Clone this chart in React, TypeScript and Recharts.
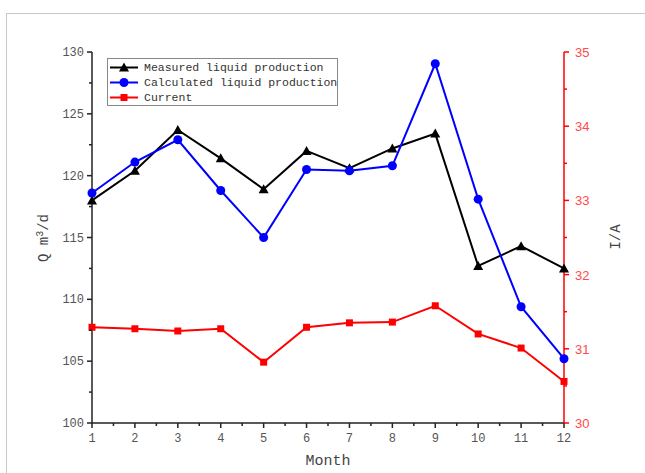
import React from 'react';
import { LineChart, Line, XAxis, YAxis } from 'recharts';

// Monthly values
const months = [1, 2, 3, 4, 5, 6, 7, 8, 9, 10, 11, 12];
const measured = [118.0, 120.4, 123.7, 121.4, 118.9, 122.0, 120.6, 122.2, 123.4, 112.7, 114.3, 112.5];
const calculated = [118.6, 121.1, 122.9, 118.8, 115.0, 120.5, 120.4, 120.8, 129.05, 118.1, 109.4, 105.2];
const current = [31.29, 31.27, 31.24, 31.27, 30.82, 31.29, 31.35, 31.36, 31.58, 31.2, 31.01, 30.56];

const qTicks = [100, 105, 110, 115, 120, 125, 130];
const iTicks = [30, 31, 32, 33, 34, 35];

const seriesNames = ['Measured liquid production', 'Calculated liquid production', 'Current'];

const data = months.map((m, i) => ({
  month: m,
  measured: measured[i],
  calculated: calculated[i],
  current: current[i],
}));

// add a minor tick halfway between each pair of major ticks
const withMinor = (ticks: number[]) => {
  const out: number[] = [];
  ticks.forEach((t, i) => {
    out.push(t);
    if (i < ticks.length - 1) out.push((t + ticks[i + 1]) / 2);
  });
  return out;
};

const MONO = '"Liberation Mono", monospace';
const AXIS_DARK = '#222';
const RED = '#ff0000';
const BLUE = '#0000ff';

const isMajor = (v: number, majors: number[]) => majors.includes(v);

const XTick = (props: any) => {
  const { x, y, payload } = props;
  const major = isMajor(payload.value, months);
  return (
    <g>
      <line x1={x} y1={y} x2={x} y2={y + (major ? 5 : 3)} stroke={AXIS_DARK} strokeWidth={1.5} />
      {major && (
        <text x={x} y={y + 19} textAnchor="middle" fontFamily={MONO} fontSize={12} fill="#555">
          {payload.value}
        </text>
      )}
    </g>
  );
};

const LeftTick = (props: any) => {
  const { x, y, payload } = props;
  const major = isMajor(payload.value, qTicks);
  return (
    <g>
      <line x1={x} y1={y} x2={x - (major ? 5 : 3)} y2={y} stroke={AXIS_DARK} strokeWidth={1.5} />
      {major && (
        <text x={x - 8} y={y + 4} textAnchor="end" fontFamily={MONO} fontSize={12} fill="#555">
          {payload.value}
        </text>
      )}
    </g>
  );
};

const RightTick = (props: any) => {
  const { x, y, payload } = props;
  const major = isMajor(payload.value, iTicks);
  return (
    <g>
      <line x1={x} y1={y} x2={x + (major ? 5 : 3)} y2={y} stroke={RED} strokeWidth={1.5} />
      {major && (
        <text x={x + 11} y={y + 5} textAnchor="start" fontFamily='"Liberation Sans", sans-serif' fontSize={13} fill="#ff4a4a">
          {payload.value}
        </text>
      )}
    </g>
  );
};

const Triangle = ({ cx, cy, color }: { cx: number; cy: number; color: string }) => (
  <polygon points={`${cx},${cy - 5} ${cx - 5},${cy + 4} ${cx + 5},${cy + 4}`} fill={color} />
);

const Square = ({ cx, cy, color }: { cx: number; cy: number; color: string }) => (
  <rect x={cx - 3.5} y={cy - 3.5} width={7} height={7} fill={color} />
);

const Dot = ({ cx, cy, color }: { cx: number; cy: number; color: string }) => (
  <circle cx={cx} cy={cy} r={4.5} fill={color} />
);

const legendMarkers = [
  { color: '#000', Mark: Triangle },
  { color: BLUE, Mark: Dot },
  { color: RED, Mark: Square },
];

const App = () => {
  return (
    <div style={{ position: 'absolute', left: 0, top: 0, width: 645, height: 473, overflow: 'hidden', background: '#fff' }}>
      {/* light frame of the figure */}
      <div style={{ position: 'absolute', left: 6, top: 13, width: 660, height: 480, border: '1px solid #c8c8c8' }} />

      <LineChart
        width={645}
        height={473}
        data={data}
        margin={{ top: 52, right: 31, bottom: 20, left: 42 }}
        style={{ position: 'absolute', left: 0, top: 0 }}
      >
        <XAxis
          dataKey="month"
          type="number"
          domain={[1, 12]}
          ticks={withMinor(months)}
          interval={0}
          height={30}
          tickSize={0}
          tickMargin={0}
          tickLine={false}
          tick={XTick}
          axisLine={{ stroke: AXIS_DARK, strokeWidth: 1.5 }}
          label={{
            content: () => (
              <text x={328} y={465} textAnchor="middle" fontFamily={MONO} fontSize={15} fill="#444">
                Month
              </text>
            ),
          }}
        />
        <YAxis
          yAxisId="q"
          orientation="left"
          type="number"
          domain={[100, 130]}
          ticks={withMinor(qTicks)}
          interval={0}
          width={50}
          tickSize={0}
          tickMargin={0}
          tickLine={false}
          tick={LeftTick}
          axisLine={{ stroke: AXIS_DARK, strokeWidth: 1.5 }}
          label={{
            content: () => (
              <text
                x={48}
                y={238}
                transform="rotate(-90 48 238)"
                textAnchor="middle"
                fontFamily={MONO}
                fontSize={14}
                fill="#444"
              >
                Q m<tspan dy={-5} fontSize={10}>3</tspan>
                <tspan dy={5}>/d</tspan>
              </text>
            ),
          }}
        />
        <YAxis
          yAxisId="i"
          orientation="right"
          type="number"
          domain={[30, 35]}
          ticks={withMinor(iTicks)}
          interval={0}
          width={50}
          tickSize={0}
          tickMargin={0}
          tickLine={false}
          tick={RightTick}
          axisLine={{ stroke: RED, strokeWidth: 1.5 }}
          label={{
            content: () => (
              <text
                x={620}
                y={237}
                transform="rotate(-90 620 237)"
                textAnchor="middle"
                fontFamily={MONO}
                fontSize={14}
                fill="#444"
              >
                I/A
              </text>
            ),
          }}
        />
        <Line
          yAxisId="q"
          dataKey="measured"
          stroke="#000"
          strokeWidth={2}
          isAnimationActive={false}
          dot={(p: any) => <Triangle key={`m-${p.index}`} cx={p.cx} cy={p.cy} color="#000" />}
        />
        <Line
          yAxisId="q"
          dataKey="calculated"
          stroke={BLUE}
          strokeWidth={2}
          isAnimationActive={false}
          dot={(p: any) => <Dot key={`c-${p.index}`} cx={p.cx} cy={p.cy} color={BLUE} />}
        />
        <Line
          yAxisId="i"
          dataKey="current"
          stroke={RED}
          strokeWidth={2}
          isAnimationActive={false}
          dot={(p: any) => <Square key={`i-${p.index}`} cx={p.cx} cy={p.cy} color={RED} />}
        />
      </LineChart>

      {/* legend box */}
      <div
        style={{
          position: 'absolute',
          left: 107,
          top: 58,
          width: 231,
          height: 48,
          border: '1px solid #888',
          background: '#fff',
          boxSizing: 'border-box',
          paddingTop: 1,
        }}
      >
        {seriesNames.map((name, i) => {
          const { color, Mark } = legendMarkers[i];
          return (
            <div key={name} style={{ display: 'flex', alignItems: 'center', height: 15 }}>
              <svg width={32} height={15} style={{ flex: 'none' }}>
                <line x1={2} y1={7.5} x2={30} y2={7.5} stroke={color} strokeWidth={2} />
                <Mark cx={16} cy={7.5} color={color} />
              </svg>
              <span style={{ fontFamily: MONO, fontSize: 11.5, color: '#333', marginLeft: 4, whiteSpace: 'nowrap' }}>
                {name}
              </span>
            </div>
          );
        })}
      </div>
    </div>
  );
};

export default App;
